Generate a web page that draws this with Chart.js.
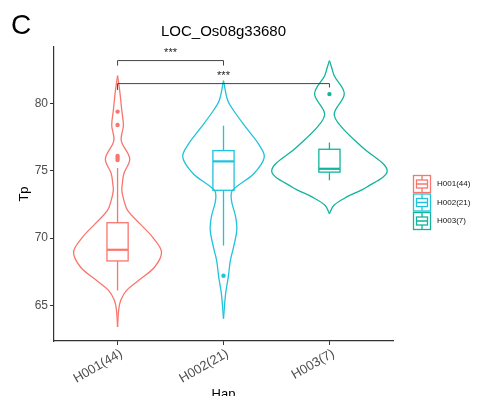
<!DOCTYPE html>
<html>
<head>
<meta charset="utf-8">
<script src="https://cdn.jsdelivr.net/npm/chart.js@4.4.1/dist/chart.umd.min.js"></script>
<style>
  body { margin: 0; background: #fff; }
  #wrap { width: 481px; height: 396px; }
</style>
</head>
<body>
<div id="wrap"><canvas id="violinChart"></canvas></div>
<script>
const haps = ['H001(44)', 'H002(21)', 'H003(7)'];
const colors = ['#F8766D', '#1FC3DC', '#12B49C'];
const yTicks = [65, 70, 75, 80];

// violin outlines: Tp levels and half widths (category units)
const violinY1 = [82.07, 80.96, 79.48, 78.36, 77.25, 75.89, 74.8, 74.03, 73.54, 72.8, 72.05, 71.07, 70.07, 68.96, 67.85, 66.86, 66.11, 65.37, 64.63, 63.39];
const violinW1 = [0, 0.02, 0.04, 0.055, 0.035, 0.115, 0.06, 0.045, 0.04, 0.06, 0.095, 0.21, 0.33, 0.415, 0.35, 0.2, 0.085, 0.03, 0.01, 0];
const violinY2 = [81.7, 80.22, 79.48, 78.24, 77.0, 76.01, 74.78, 73.54, 72.8, 71.56, 70.57, 69.33, 68.34, 67.1, 65.87, 64.01];
const violinW2 = [0, 0.04, 0.095, 0.21, 0.33, 0.385, 0.285, 0.085, 0.075, 0.115, 0.125, 0.095, 0.065, 0.045, 0.02, 0];
const violinY3 = [83.19, 82.7, 82.07, 80.72, 79.23, 78.24, 76.75, 75.02, 73.78, 73.04, 72.42, 71.81];
const violinW3 = [0, 0.02, 0.045, 0.14, 0.045, 0.115, 0.31, 0.545, 0.35, 0.16, 0.04, 0];

// boxplot stats: lower whisker, q1, median, q3, upper whisker
const box1 = [66.1, 68.3, 69.13, 71.14, 75.2];
const box2 = [69.45, 73.55, 75.7, 76.5, 78.35];
const box3 = [74.3, 74.9, 75.15, 76.6, 77.1];
const outliers1 = [79.4, 78.4, 76.1, 75.95, 75.8];
const outliers2 = [67.2];
const outliers3 = [80.7];

// significance brackets: from, to, line level, left tip, right tip, label
const brackets = [
    [1, 2, 83.19, 82.82, 82.82, '***'],
    [1, 3, 81.48, 81.0, 81.19, '***']
];

const violinY = [violinY1, violinY2, violinY3];
const violinW = [violinW1, violinW2, violinW3];
const boxes = [box1, box2, box3];
const outliers = [outliers1, outliers2, outliers3];
const boxHalf = 0.1;

Chart.defaults.font.family = '"Liberation Sans", Arial, sans-serif';

const datasets = [];
violinY.forEach((ys, i) => {
    [1, -1].forEach(sign => {
        datasets.push({
            data: ys.map((y, k) => ({ x: i + 1 + sign * violinW[i][k], y: y })),
            showLine: true,
            borderColor: colors[i],
            borderWidth: 1.3,
            pointRadius: 0,
            tension: 0.35,
            fill: false
        });
    });
});
outliers.forEach((pts, i) => {
    datasets.push({
        data: pts.map(y => ({ x: i + 1, y: y })),
        backgroundColor: colors[i],
        borderColor: colors[i],
        pointRadius: 2.2,
        borderWidth: 0
    });
});

// box plots + brackets
const extras = {
    id: 'extras',
    afterDatasetsDraw(chart) {
        const { ctx, scales: { x, y } } = chart;
        ctx.save();
        boxes.forEach((b, i) => {
            const xc = x.getPixelForValue(i + 1);
            const xl = x.getPixelForValue(i + 1 - boxHalf);
            const xr = x.getPixelForValue(i + 1 + boxHalf);
            ctx.strokeStyle = colors[i];
            ctx.lineWidth = 1.3;
            ctx.beginPath();
            ctx.moveTo(xc, y.getPixelForValue(b[0]));
            ctx.lineTo(xc, y.getPixelForValue(b[1]));
            ctx.moveTo(xc, y.getPixelForValue(b[3]));
            ctx.lineTo(xc, y.getPixelForValue(b[4]));
            ctx.stroke();
            ctx.strokeRect(xl, y.getPixelForValue(b[3]), xr - xl, y.getPixelForValue(b[1]) - y.getPixelForValue(b[3]));
            ctx.lineWidth = 2.2;
            ctx.beginPath();
            ctx.moveTo(xl, y.getPixelForValue(b[2]));
            ctx.lineTo(xr, y.getPixelForValue(b[2]));
            ctx.stroke();
        });

        ctx.strokeStyle = '#444';
        ctx.lineWidth = 1;
        ctx.fillStyle = '#222';
        ctx.font = '11px "Liberation Sans", Arial, sans-serif';
        ctx.textAlign = 'center';
        ctx.textBaseline = 'bottom';
        brackets.forEach(br => {
            const x1 = x.getPixelForValue(br[0]), x2 = x.getPixelForValue(br[1]);
            const yl = y.getPixelForValue(br[2]);
            ctx.beginPath();
            ctx.moveTo(x1, y.getPixelForValue(br[3]));
            ctx.lineTo(x1, yl);
            ctx.lineTo(x2, yl);
            ctx.lineTo(x2, y.getPixelForValue(br[4]));
            ctx.stroke();
            ctx.fillText(br[5], (x1 + x2) / 2, yl - 2);
        });
        ctx.restore();
    },
    afterDraw(chart) {
        const { ctx, chartArea } = chart;
        ctx.save();
        ctx.fillStyle = '#000';
        ctx.textBaseline = 'middle';
        ctx.textAlign = 'left';
        ctx.font = '28px "Liberation Sans", Arial, sans-serif';
        ctx.fillText('C', 11, 26);
        ctx.textAlign = 'center';
        ctx.font = '15px "Liberation Sans", Arial, sans-serif';
        ctx.fillText('LOC_Os08g33680', (chartArea.left + chartArea.right) / 2, 32);

        // legend
        ctx.font = '8px "Liberation Sans", Arial, sans-serif';
        ctx.textAlign = 'left';
        haps.forEach((h, i) => {
            const lx = 413, ly = 175 + i * 18.5, s = 18;
            ctx.fillStyle = '#fff';
            ctx.fillRect(lx, ly, s, s);
            ctx.strokeStyle = colors[i];
            ctx.lineWidth = 1.3;
            ctx.strokeRect(lx + 0.5, ly + 0.5, s - 1, s - 1);
            ctx.strokeRect(lx + 3.5, ly + 5, s - 7, s - 10);
            ctx.beginPath();
            ctx.moveTo(lx + s / 2, ly + 1);
            ctx.lineTo(lx + s / 2, ly + 5);
            ctx.moveTo(lx + s / 2, ly + s - 5);
            ctx.lineTo(lx + s / 2, ly + s - 1);
            ctx.moveTo(lx + 3.5, ly + s / 2);
            ctx.lineTo(lx + s - 3.5, ly + s / 2);
            ctx.stroke();
            ctx.fillStyle = '#111';
            ctx.fillText(h, 437, ly + s / 2);
        });
        ctx.restore();
    }
};

new Chart(document.getElementById('violinChart'), {
    type: 'scatter',
    data: { datasets: datasets },
    options: {
        responsive: true,
        maintainAspectRatio: false,
        animation: false,
        layout: { padding: { left: 0, right: 88, top: 47, bottom: 0 } },
        plugins: { legend: { display: false }, tooltip: { enabled: false } },
        scales: {
            x: {
                type: 'linear',
                min: 0.4,
                max: 3.6,
                afterBuildTicks: s => { s.ticks = [1, 2, 3].map(v => ({ value: v })); },
                afterFit: s => { s.height = 55; },
                ticks: {
                    autoSkip: false,
                    minRotation: 30,
                    maxRotation: 30,
                    color: '#4D4D4D',
                    font: { size: 13 },
                    padding: 1,
                    labelOffset: 4,
                    callback: v => haps[v - 1]
                },
                grid: { drawOnChartArea: false, drawTicks: true, tickLength: 4, color: '#333' },
                border: { display: true, color: '#333', width: 1.2 },
                title: { display: true, text: 'Hap', color: '#000', font: { size: 13 }, padding: { top: 0, bottom: -6 } }
            },
            y: {
                min: 62.35,
                max: 84.2,
                afterBuildTicks: s => { s.ticks = yTicks.map(v => ({ value: v })); },
                afterFit: s => { s.width = 54; },
                ticks: { color: '#4D4D4D', font: { size: 12 }, padding: 2 },
                grid: { drawOnChartArea: false, drawTicks: true, tickLength: 4, color: '#333' },
                border: { display: true, color: '#333', width: 1.2 },
                title: { display: true, text: 'Tp', color: '#000', font: { size: 13 }, padding: { top: 17, bottom: 0 } }
            }
        }
    },
    plugins: [extras]
});
</script>
</body>
</html>
